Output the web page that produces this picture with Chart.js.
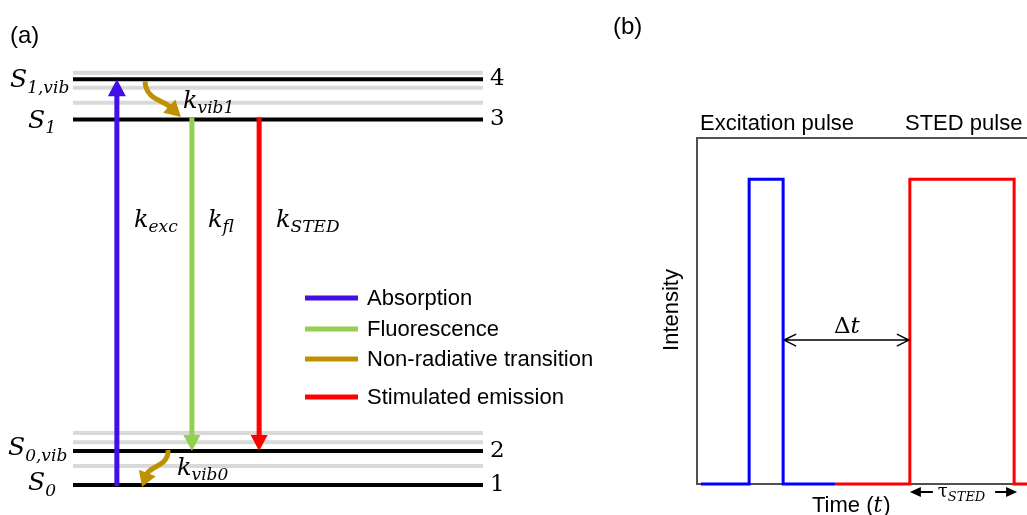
<!DOCTYPE html>
<html>
<head>
<meta charset="utf-8">
<script src="https://cdn.jsdelivr.net/npm/chart.js@4.4.0/dist/chart.umd.min.js"></script>
<style>
  body { margin: 0; background: #fff; width: 1027px; height: 515px; overflow: hidden; position: relative; }
  #wrapA { position: absolute; left: 0; top: 0; width: 600px; height: 515px; }
  #wrapB { position: absolute; left: 600px; top: 0; width: 427px; height: 515px; }
</style>
</head>
<body>
<div id="wrapA"><canvas id="levels" width="600" height="515"></canvas></div>
<div id="wrapB"><canvas id="pulses" width="427" height="515"></canvas></div>
<script>
// (a) energy levels, arbitrary units with S1 = 1
const levelNames = [['S', '0'], ['S', '0,vib'], ['S', '1'], ['S', '1,vib']];
const levelEnergy = [0, 0.093, 1.0, 1.11];
const levelNumbers = ['1', '2', '3', '4'];
const vibEnergy = [0.052, 0.117, 0.142, 1.046, 1.087, 1.128];

const transitionNames = ['Absorption', 'Fluorescence', 'Non-radiative transition', 'Stimulated emission'];
const transitionColors = ['#420FE6', '#92D050', '#BF9000', '#FF0000'];
const rateLabels = [['k', 'exc'], ['k', 'fl'], ['k', 'STED'], ['k', 'vib1'], ['k', 'vib0']];

// (b) pulse traces, arbitrary time units
const excTime = [1.2, 15.8, 15.8, 26.1, 26.1, 41.8];
const excIntensity = [0, 0, 1, 1, 0, 0];
const stedTime = [41.8, 64.5, 64.5, 96.1, 96.1, 100];
const stedIntensity = [0, 0, 1, 1, 0, 0];

const MATH = '"DejaVu Serif", serif';
const SANS = '"Liberation Sans", Arial, sans-serif';

function toPoints(xs, ys) {
  return xs.map((x, i) => ({ x: x, y: ys[i] }));
}

function drawSub(ctx, x, y, main, sub, size, subSize, upright) {
  ctx.font = (upright ? '' : 'italic ') + size + 'px ' + MATH;
  ctx.fillText(main, x, y);
  const w = ctx.measureText(main).width;
  ctx.font = 'italic ' + subSize + 'px ' + MATH;
  ctx.fillText(sub, x + w, y + size * 0.22);
  return x + w + ctx.measureText(sub).width;
}

function drawHead(ctx, tx, ty, dx, dy, len, half, color) {
  const n = Math.hypot(dx, dy);
  dx /= n; dy /= n;
  const bx = tx - dx * len, by = ty - dy * len;
  ctx.beginPath();
  ctx.moveTo(tx, ty);
  ctx.lineTo(bx - dy * half, by + dx * half);
  ctx.lineTo(bx + dy * half, by - dx * half);
  ctx.closePath();
  ctx.fillStyle = color;
  ctx.fill();
}

function straightArrow(ctx, x, y0, y1, color, len, half) {
  const dir = Math.sign(y1 - y0);
  ctx.strokeStyle = color;
  ctx.lineWidth = 5;
  ctx.beginPath();
  ctx.moveTo(x, y0);
  ctx.lineTo(x, y1 - dir * (len - 1));
  ctx.stroke();
  drawHead(ctx, x, y1, 0, dir, len, half, color);
}

function curvedArrow(ctx, p0, c1, c2, tip, color, len, half) {
  const dx = tip[0] - c2[0], dy = tip[1] - c2[1];
  const n = Math.hypot(dx, dy);
  const bx = tip[0] - dx / n * (len - 1), by = tip[1] - dy / n * (len - 1);
  ctx.strokeStyle = color;
  ctx.lineWidth = 5;
  ctx.beginPath();
  ctx.moveTo(p0[0], p0[1]);
  ctx.bezierCurveTo(c1[0], c1[1], c2[0], c2[1], bx, by);
  ctx.stroke();
  drawHead(ctx, tip[0], tip[1], dx, dy, len, half, color);
}

const levelLines = levelEnergy.map(e => ({
  data: [{ x: 0, y: e }, { x: 10, y: e }],
  borderColor: '#000', borderWidth: 4, order: 1
}));
const vibLines = vibEnergy.map(e => ({
  data: [{ x: 0, y: e }, { x: 10, y: e }],
  borderColor: '#D9D9D9', borderWidth: 4, order: 2
}));

const jablonskiPlugin = {
  id: 'jablonski',
  afterDatasetsDraw(chart) {
    const ctx = chart.ctx;
    const X = chart.scales.x, YS = chart.scales.y;
    const px = u => X.getPixelForValue(u);
    const py = e => YS.getPixelForValue(e);
    const [e0, e0v, e1, e1v] = levelEnergy;
    ctx.save();
    ctx.lineCap = 'butt';

    // radiative transitions
    straightArrow(ctx, px(1.07), py(e0) + 1, py(e1v), transitionColors[0], 17, 9);
    straightArrow(ctx, px(2.9), py(e1) - 2, py(e0v), transitionColors[1], 16, 8.5);
    straightArrow(ctx, px(4.54), py(e1) - 2, py(e0v), transitionColors[3], 16, 8.5);

    // vibrational relaxation
    curvedArrow(ctx, [px(1.756), py(e1v) + 2], [px(1.78), py(e1) - 20], [px(2.17), py(e1) - 20],
      [px(2.634), py(e1) - 2.5], transitionColors[2], 16, 9);
    curvedArrow(ctx, [px(2.317), py(e0v) - 1], [px(2.341), py(e0v) + 15], [px(1.878), py(e0v) + 15],
      [px(1.683), py(e0) + 2], transitionColors[2], 15, 9);

    ctx.fillStyle = '#000';
    ctx.textBaseline = 'alphabetic';
    ctx.textAlign = 'left';

    // state labels on the left
    drawSub(ctx, 10, py(e1v) + 8, levelNames[3][0], levelNames[3][1], 25, 17);
    drawSub(ctx, 28, py(e1) + 8, levelNames[2][0], levelNames[2][1], 25, 17);
    drawSub(ctx, 8, py(e0v) + 4, levelNames[1][0], levelNames[1][1], 25, 17);
    drawSub(ctx, 28, py(e0) + 5, levelNames[0][0], levelNames[0][1], 25, 17);

    // level numbers on the right
    ctx.font = '23px ' + MATH;
    ctx.textBaseline = 'middle';
    levelEnergy.forEach((e, i) => ctx.fillText(levelNumbers[i], chart.chartArea.right + 7, py(e)));
    ctx.textBaseline = 'alphabetic';

    // rate constants
    drawSub(ctx, 134, 227, rateLabels[0][0], rateLabels[0][1], 24, 17);
    drawSub(ctx, 208, 227, rateLabels[1][0], rateLabels[1][1], 24, 17);
    drawSub(ctx, 276, 227, rateLabels[2][0], rateLabels[2][1], 24, 17);
    drawSub(ctx, 183, py(e1) - 12, rateLabels[3][0], rateLabels[3][1], 24, 17);
    drawSub(ctx, 177, py(e0) - 10, rateLabels[4][0], rateLabels[4][1], 24, 17);

    // legend
    const legendY = [298, 329, 359, 397];
    transitionNames.forEach((name, i) => {
      ctx.strokeStyle = transitionColors[i];
      ctx.lineWidth = 5;
      ctx.beginPath();
      ctx.moveTo(305, legendY[i]);
      ctx.lineTo(358, legendY[i]);
      ctx.stroke();
      ctx.fillStyle = '#000';
      ctx.font = '22px ' + SANS;
      ctx.textBaseline = 'middle';
      ctx.fillText(name, 367, legendY[i] + 1);
    });

    ctx.font = '24px ' + SANS;
    ctx.textBaseline = 'middle';
    ctx.fillText('(a)', 10, 36);
    ctx.restore();
  }
};

new Chart(document.getElementById('levels'), {
  type: 'scatter',
  data: { datasets: [...vibLines, ...levelLines] },
  options: {
    responsive: false,
    animation: false,
    showLine: true,
    layout: { padding: { left: 73, right: 117, top: 72, bottom: 30 } },
    elements: { point: { radius: 0, hoverRadius: 0 } },
    datasets: { scatter: { clip: false } },
    scales: {
      x: { type: 'linear', min: 0, max: 10, display: false },
      y: { type: 'linear', min: 0, max: 1.13, display: false }
    },
    plugins: { legend: { display: false }, tooltip: { enabled: false } }
  },
  plugins: [jablonskiPlugin]
});

const pulsePlugin = {
  id: 'pulseFrame',
  beforeDatasetsDraw(chart) {
    const { ctx, chartArea: a } = chart;
    ctx.save();
    ctx.strokeStyle = '#505050';
    ctx.lineWidth = 2;
    ctx.beginPath();
    ctx.moveTo(a.right, a.top);
    ctx.lineTo(a.left, a.top);
    ctx.lineTo(a.left, a.bottom);
    ctx.lineTo(a.right, a.bottom);
    ctx.stroke();
    ctx.restore();
  },
  afterDatasetsDraw(chart) {
    const ctx = chart.ctx;
    const X = chart.scales.x, Yv = chart.scales.y;
    const px = t => X.getPixelForValue(t);
    const py = v => Yv.getPixelForValue(v);
    ctx.save();
    ctx.fillStyle = '#000';
    ctx.strokeStyle = '#000';

    // delay between pulses
    const xa = px(excTime[3]) + 1, xb = px(stedTime[1]) - 1, yd = py(0.472);
    ctx.lineWidth = 1.5;
    ctx.beginPath();
    ctx.moveTo(xa, yd); ctx.lineTo(xb, yd);
    ctx.moveTo(xa + 12, yd - 6); ctx.lineTo(xa, yd); ctx.lineTo(xa + 12, yd + 6);
    ctx.moveTo(xb - 12, yd - 6); ctx.lineTo(xb, yd); ctx.lineTo(xb - 12, yd + 6);
    ctx.stroke();
    ctx.font = '23px ' + MATH;
    ctx.textBaseline = 'alphabetic';
    ctx.fillText('Δ', 234, 333);
    const dw = ctx.measureText('Δ').width;
    ctx.font = 'italic 23px ' + MATH;
    ctx.fillText('t', 234 + dw, 333);

    // STED pulse width
    const x0 = px(stedTime[2]), x1 = px(stedTime[3]) + 3, yt = py(0) + 8;
    ctx.lineWidth = 2;
    ctx.beginPath();
    ctx.moveTo(x0 + 8, yt); ctx.lineTo(x0 + 23, yt);
    ctx.moveTo(x1 - 22, yt); ctx.lineTo(x1 - 8, yt);
    ctx.stroke();
    drawHead(ctx, x0, yt, -1, 0, 11, 5, '#000');
    drawHead(ctx, x1, yt, 1, 0, 11, 5, '#000');
    ctx.fillStyle = '#000';
    drawSub(ctx, x0 + 28, yt + 5, 'τ', 'STED', 18, 13, true);

    // titles and axis labels
    ctx.font = '22px ' + SANS;
    ctx.fillText('Excitation pulse', 100, 130);
    ctx.fillText('STED pulse', 305, 130);
    ctx.fillText('Time (', 212, 512);
    let tx = 212 + ctx.measureText('Time (').width;
    ctx.font = 'italic 22px ' + MATH;
    ctx.fillText('t', tx, 512);
    tx += ctx.measureText('t').width + 1;
    ctx.font = '22px ' + SANS;
    ctx.fillText(')', tx, 512);

    ctx.save();
    ctx.translate(78, 310);
    ctx.rotate(-Math.PI / 2);
    ctx.textAlign = 'center';
    ctx.fillText('Intensity', 0, 0);
    ctx.restore();

    ctx.font = '24px ' + SANS;
    ctx.textBaseline = 'middle';
    ctx.fillText('(b)', 13, 27);
    ctx.restore();
  }
};

new Chart(document.getElementById('pulses'), {
  type: 'scatter',
  data: {
    datasets: [
      { label: 'Excitation pulse', data: toPoints(excTime, excIntensity), borderColor: '#0000FF', borderWidth: 3 },
      { label: 'STED pulse', data: toPoints(stedTime, stedIntensity), borderColor: '#FF0000', borderWidth: 3 }
    ]
  },
  options: {
    responsive: false,
    animation: false,
    showLine: true,
    layout: { padding: { left: 97, right: 0, top: 138, bottom: 31 } },
    elements: { point: { radius: 0, hoverRadius: 0 }, line: { borderJoinStyle: 'miter' } },
    datasets: { scatter: { clip: false } },
    scales: {
      x: { type: 'linear', min: 0, max: 100, display: false },
      y: { type: 'linear', min: 0, max: 1.135, display: false }
    },
    plugins: { legend: { display: false }, tooltip: { enabled: false } }
  },
  plugins: [pulsePlugin]
});
</script>
</body>
</html>
